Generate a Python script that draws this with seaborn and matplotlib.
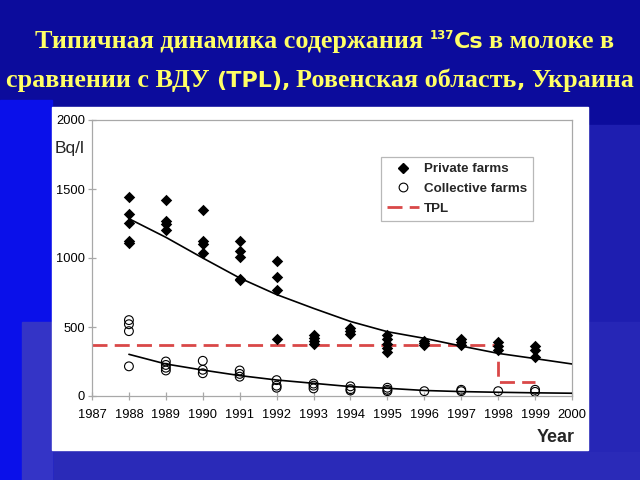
import matplotlib
matplotlib.use("Agg")
import matplotlib.pyplot as plt
import matplotlib.transforms as mtransforms
from matplotlib.lines import Line2D
from matplotlib.patches import Rectangle
import pandas as pd
import seaborn as sns

# ---- data -----------------------------------------------------------------
private_year = ([1988] * 5 + [1989] * 4 + [1990] * 4 + [1991] * 5 + [1992] * 4
                + [1993] * 4 + [1994] * 3 + [1995] * 5 + [1996] * 3 + [1997] * 3
                + [1998] * 3 + [1999] * 3)
private_bq = [1440, 1320, 1250, 1120, 1110,
              1420, 1265, 1245, 1205,
              1350, 1120, 1105, 1035,
              1120, 1050, 1005, 850, 840,
              975, 860, 765, 410,
              440, 420, 400, 380,
              490, 470, 450,
              440, 410, 380, 350, 320,
              400, 385, 370,
              410, 390, 370,
              390, 360, 330,
              365, 330, 285]

collective_year = ([1988] * 4 + [1989] * 4 + [1990] * 3 + [1991] * 3 + [1992] * 3
                   + [1993] * 3 + [1994] * 3 + [1995] * 3 + [1996] + [1997] * 2
                   + [1998] + [1999] * 2)
collective_bq = [550, 520, 470, 215,
                 250, 225, 205, 185,
                 255, 190, 165,
                 185, 160, 140,
                 115, 75, 60,
                 90, 75, 55,
                 70, 50, 40,
                 60, 45, 35,
                 35,
                 45, 35,
                 35,
                 45, 30]

trend_year = [1988, 1989, 1990, 1991, 1992, 1993, 1994, 1995, 1996, 1997, 1998, 1999, 2000]
private_trend = [1285, 1150, 1000, 855, 735, 635, 540, 466, 418, 362, 309, 271, 232]
collective_trend = [302, 232, 188, 148, 116, 92, 68, 56, 40, 32, 27, 23, 20]

tpl_year = [1987, 1998, 1998, 1999]
tpl_bq = [370, 370, 100, 100]

year_ticks = list(range(1987, 2001))
bq_ticks = [0, 500, 1000, 1500, 2000]

YELLOW = "#ffff66"
RED = "#d94848"
GREY = "#a8a8a8"

sns.set_style("ticks")
plt.rcParams["font.family"] = ["Liberation Sans", "DejaVu Sans"]

fig = plt.figure(figsize=(6.4, 4.8), dpi=100)
fig.patch.set_facecolor("#0c0c9c")

# slide background blocks (template look)
W, H = 640, 480
def rect(x0, y0, x1, y1, color, z=-5):
    fig.patches.append(Rectangle((x0 / W, 1 - y1 / H), (x1 - x0) / W, (y1 - y0) / H,
                                 transform=fig.transFigure, color=color, zorder=z))

rect(0, 450, 640, 480, "#2a2ab8")
rect(588, 125, 640, 450, "#1e1eb0")
rect(588, 322, 640, 450, "#2626b6")
rect(0, 100, 52, 480, "#0a10ea")
rect(22, 322, 52, 480, "#3434c6")
rect(52, 107, 588, 450, "white", z=-4)

ax = fig.add_axes([92 / W, 84 / H, 480 / W, 276 / H])
ax.set_facecolor("white")

df_p = pd.DataFrame({"year": private_year, "bq": private_bq})
df_c = pd.DataFrame({"year": collective_year, "bq": collective_bq})
df_t = pd.DataFrame({"year": trend_year, "private": private_trend,
                     "collective": collective_trend})

sns.lineplot(x=tpl_year, y=tpl_bq, sort=False, estimator=None, color=RED,
             lw=2, dashes=False, ax=ax, zorder=2).lines[-1].set_dashes((5.4, 2.6))
sns.lineplot(data=df_t, x="year", y="private", color="black", lw=1.2, ax=ax, zorder=3)
sns.lineplot(data=df_t, x="year", y="collective", color="black", lw=1.2, ax=ax, zorder=3)
sns.scatterplot(data=df_p, x="year", y="bq", marker="D", s=34, color="black",
                edgecolor="black", linewidth=0, ax=ax, zorder=4)
sns.scatterplot(data=df_c, x="year", y="bq", marker="o", s=40, facecolor="none",
                edgecolor="black", linewidth=0.8, ax=ax, zorder=4)

ax.set_xlim(1987, 2000)
ax.set_ylim(0, 2000)
ax.set_xticks(year_ticks)
ax.set_yticks(bq_ticks)
ax.set_xlabel("")
ax.set_ylabel("")
for sp in ax.spines.values():
    sp.set_visible(True)
    sp.set_color(GREY)
    sp.set_linewidth(0.9)
ax.tick_params(axis="both", direction="inout", length=6, width=0.9, color=GREY,
               labelsize=9.3, labelcolor="black")
ax.tick_params(axis="x", pad=6)
ax.tick_params(axis="y", pad=2)

handles = [
    Line2D([], [], marker="D", ms=5, color="black", ls="none"),
    Line2D([], [], marker="o", ms=6.3, mfc="none", mec="black", mew=0.8, ls="none"),
    Line2D([], [], color=RED, lw=2, dashes=(5.4, 2.6)),
]
leg = ax.legend(handles, ["Private farms", "Collective farms", "TPL"],
                loc="upper left", bbox_to_anchor=(0.602, 0.866), borderaxespad=0,
                fancybox=False, frameon=True, edgecolor="#b8b8b8", framealpha=1,
                prop={"family": "Liberation Sans", "weight": "bold", "size": 9.6},
                handlelength=2.4, handletextpad=0.4, labelspacing=0.55,
                borderpad=0.45)
leg.get_frame().set_linewidth(0.9)

fig.text(55 / W, 1 - 149 / H, "Bq/l", fontsize=12.5, va="center", ha="left",
         family="Liberation Sans")
fig.text(575 / W, 1 - 437 / H, "Year", fontsize=13, va="center", ha="right",
         weight="bold", family="Liberation Sans")

# ---- title: mixed fonts, laid out piece by piece --------------------------
SERIF = dict(family="Liberation Serif", weight="bold", size=18.8)
HEAVY = dict(family="DejaVu Sans", weight="bold", size=16)
SUP = dict(family="DejaVu Sans", weight="bold", size=8.5)
GAP = 6

def title_line(pieces, base_y, center_x):
    r = fig.canvas.get_renderer()
    ident = mtransforms.IdentityTransform()
    objs = []
    total = 0
    for item in pieces:
        if item == "gap":
            objs.append((None, GAP)); total += GAP
            continue
        s, kw, dy = item
        t = fig.text(0, 0, s, transform=ident, color=YELLOW, va="baseline",
                     ha="left", **kw)
        w = t.get_window_extent(r).width
        objs.append((t, w, dy)); total += w
    x = center_x - total / 2
    for o in objs:
        if o[0] is None:
            x += o[1]
            continue
        t, w, dy = o
        t.set_position((x, H - base_y + dy))
        x += w

title_line([("Типичная динамика содержания", SERIF, 0), "gap",
            ("137", SUP, 9), ("Cs", HEAVY, 0), "gap",
            ("в молоке в", SERIF, 0)], 48, 325)
title_line([("сравнении с ВДУ", SERIF, 0), "gap", ("(TPL),", HEAVY, 0), "gap",
            ("Ровенская область", SERIF, 0), (",", HEAVY, 0), "gap",
            ("Украина", SERIF, 0)], 87, 320)

fig.savefig("out.png", dpi=100, facecolor=fig.get_facecolor())
